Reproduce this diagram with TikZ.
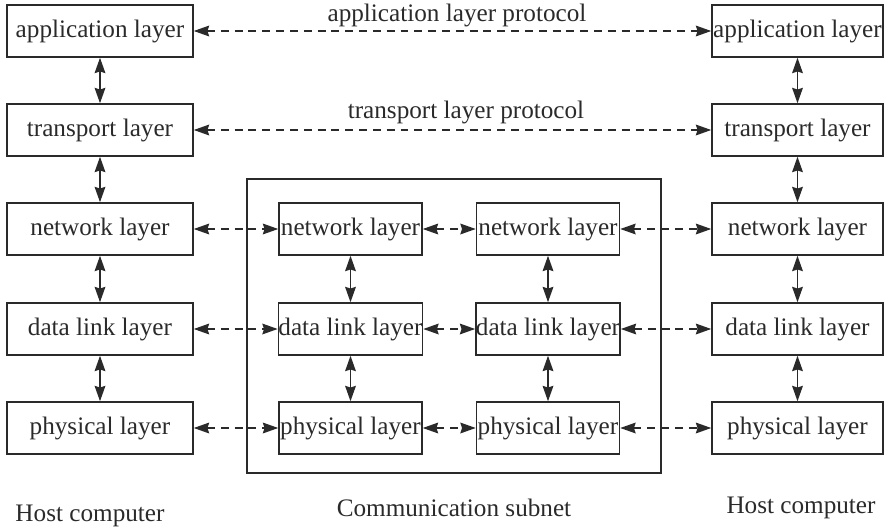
\documentclass[tikz,border=0pt]{standalone}
\usepackage{fontspec}
\setmainfont{Liberation Serif}
\usetikzlibrary{arrows.meta}
\definecolor{ink}{HTML}{2A2A2A}
\tikzset{
  layer/.style={draw=ink, line width=1.3pt, minimum height=52*0.03cm, inner sep=0pt, text=ink,
    font=\fontsize{21.5}{24}\selectfont},
  hostL/.style={layer, minimum width=186*0.03cm},
  hostR/.style={layer, minimum width=171*0.03cm},
  mid/.style={layer, minimum width=143*0.03cm},
  tip/.style={{Stealth[length=4.6mm,width=3.2mm,inset=0.5mm]}-{Stealth[length=4.6mm,width=3.2mm,inset=0.5mm]}},
  vlink/.style={tip, draw=ink, fill=ink, line width=1.4pt},
  dlink/.style={tip, draw=ink, line width=1.4pt, dash pattern=on 6.8pt off 5pt},
  lbl/.style={text=ink, inner sep=0pt, font=\fontsize{21.5}{24}\selectfont}
}
\begin{document}
\begin{tikzpicture}[x=0.03cm, y=-0.03cm]
\useasboundingbox (0,0) rectangle (885,532);
% subnet frame
\node[draw=ink, line width=2pt, minimum width=414*0.03cm, minimum height=294*0.03cm, inner sep=0pt] (subnet) at (454,326) {};
% left host
\node[hostL] (la) at (100,31) {application layer};
\node[hostL] (lt) at (100,130) {transport layer};
\node[hostL] (ln) at (100,229) {network layer};
\node[hostL] (ld) at (100,329) {data link layer};
\node[hostL] (lp) at (100,428) {physical layer};
% right host
\node[hostR] (ra) at (797.5,31) {application layer};
\node[hostR] (rt) at (797.5,130) {transport layer};
\node[hostR] (rn) at (797.5,229) {network layer};
\node[hostR] (rd) at (797.5,329) {data link layer};
\node[hostR] (rp) at (797.5,428) {physical layer};
% subnet nodes
\node[mid] (an) at (350.5,229) {network layer};
\node[mid] (ad) at (350.5,329) {data link layer};
\node[mid] (ap) at (350.5,428) {physical layer};
\node[mid] (bn) at (548,229) {network layer};
\node[mid] (bd) at (548,329) {data link layer};
\node[mid] (bp) at (548,428) {physical layer};
% vertical links
\foreach \u/\v in {la/lt,lt/ln,ln/ld,ld/lp,ra/rt,rt/rn,rn/rd,rd/rp,an/ad,ad/ap,bn/bd,bd/bp}
  \draw[vlink] (\u.south) -- (\v.north);
% dashed links
\draw[dlink] (la.east) -- (ra.west);
\draw[dlink] (lt.east) -- (rt.west);
\foreach \r in {n,d,p}{
  \draw[dlink] (l\r.east) -- (a\r.west);
  \draw[dlink] (a\r.east) -- (b\r.west);
  \draw[dlink] (b\r.east) -- (r\r.west);
}
% labels
\node[lbl] (pa) at (457,15) {application layer protocol};
\node[lbl] (pt) at (466,112) {transport layer protocol};
\node[lbl] (h1) at (90,516) {Host computer};
\node[lbl] (cs) at (454,508) {Communication subnet};
\node[lbl] (h2) at (801,508) {Host computer};
\end{tikzpicture}
\end{document}
